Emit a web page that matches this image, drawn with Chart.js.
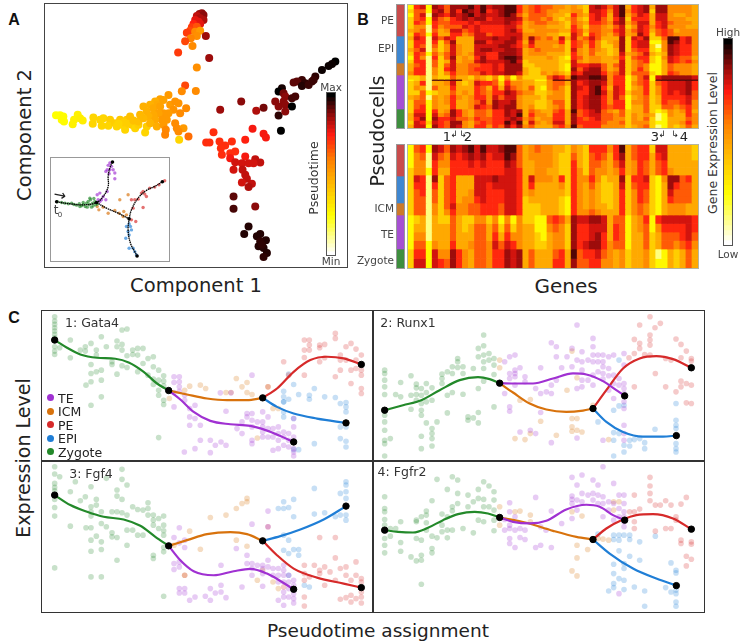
<!DOCTYPE html>
<html>
<head>
<meta charset="utf-8">
<script src="https://cdn.jsdelivr.net/npm/chart.js@4"></script>
<style>
    body { margin: 0; background: #fff; width: 741px; height: 644px; overflow: hidden; position: relative; font-family: "DejaVu Sans", sans-serif; }
    canvas { position: absolute; filter: blur(0.4px); }
    .lbl { position: absolute; white-space: nowrap; color: #222; transform: translate(-50%, -50%); }
    .dot { position: absolute; width: 7px; height: 7px; border-radius: 50%; }
</style>
</head>
<body>
<script>
// Panel A: [component 1, component 2, pseudotime]
const peBranch = [[605,40,.88],[598,42,.86],[610,45,.88],[590,48,.82],[600,55,.84],[610,60,.84],[585,60,.78],[595,65,.78],[580,72,.74],[600,72,.78],[575,82,.7],[590,80,.66],[570,92,.68],[560,98,.7],[585,95,.56],[600,92,.52],[617,108,.86],[590,108,.55],[572,115,.58],[555,124,.68],[577,138,.56],[534,158,.7],[627,174,.86],[590,203,.55],[555,257,.68],[545,274,.56],[587,273,.56]];
const yellowBranch = [[168,346,.24],[180,346,.24],[190,350,.25],[185,360,.25],[192,365,.25],[218,373,.28],[222,360,.28],[233,345,.28],[240,355,.29],[248,362,.29],[280,353,.36],[278,372,.36],[300,360,.36],[310,355,.36],[305,378,.36],[330,360,.38],[325,378,.36],[345,370,.38],[350,380,.36],[360,360,.4],[365,375,.36],[375,390,.36],[380,360,.4],[390,350,.42],[395,375,.4],[405,385,.36],[415,375,.38],[415,365,.42],[435,398,.36],[440,380,.38],[372,368,.38],[355,372,.36],[385,372,.38],[400,362,.42]];
const orangeBranch = [[505,285,.52],[480,298,.5],[465,305,.47],[490,300,.5],[470,315,.48],[450,315,.46],[430,320,.46],[440,335,.46],[460,325,.48],[480,320,.5],[510,315,.52],[525,305,.54],[535,310,.54],[520,330,.54],[505,340,.52],[490,340,.52],[475,340,.5],[460,345,.48],[445,350,.46],[430,355,.44],[420,345,.44],[540,340,.56],[558,325,.56],[500,360,.52],[485,360,.52],[465,360,.48],[450,370,.45],[470,380,.47],[490,375,.52],[525,370,.56],[497,390,.57],[495,405,.58],[530,385,.56],[550,385,.52],[535,395,.56],[565,410,.62],[537,420,.36]];
const redBranch = [[618,428,.72],[628,428,.72],[640,397,.72],[658,425,.72],[675,437,.72],[695,425,.72],[662,445,.72],[665,465,.72],[690,460,.72],[705,455,.72],[690,475,.76],[705,487,.8],[735,470,.76],[725,490,.8],[745,490,.8],[765,478,.82],[780,488,.82],[760,490,.8],[700,510,.8],[727,510,.82],[735,525,.82],[740,537,.82],[725,548,.8],[755,552,.82],[745,562,.84],[757,387,.76],[790,402,.76],[797,413,.76],[735,420,.74],[700,590,.92],[700,627,.94],[765,620,.88]];
const epiBranch = [[745,680,.97],[732,703,.97],[780,703,.97],[770,710,.97],[797,722,.97],[780,725,.96],[775,740,.97],[790,745,.97],[785,735,.96],[800,760,.97],[790,772,.96]];
const darkBranch = [[1005,185,1],[995,192,.99],[985,198,.99],[965,210,.99],[945,230,.96],[935,245,.95],[905,240,.95],[890,245,.92],[880,248,.92],[915,250,.96],[905,258,.97],[925,255,.95],[940,240,.95],[845,265,.98],[835,275,1],[850,280,.9],[855,290,.88],[875,295,.94],[885,290,.94],[825,305,.88],[835,320,.88],[850,305,.88],[855,315,.88],[875,320,1],[835,347,.96],[855,335,.88],[842,393,1],[790,324,.9],[768,333,.84],[723,305,.88],[660,330,.86]];

// Panel A inset: cells coloured by state, black lines are the trajectory
const insetZygote = [[172,606],[185,608],[195,610],[205,612],[215,610],[222,614],[230,616],[238,612],[245,618],[250,614],[256,620],[260,610],[265,605],[268,615],[272,600],[275,622],[278,610],[282,596],[285,605],[288,615],[262,622],[250,608],[240,620],[270,595],[280,618],[292,612]];
const insetTE = [[330,490],[325,497],[335,500],[322,510],[330,510],[340,510],[318,515],[328,522],[345,520],[345,537],[300,580],[292,585],[310,590],[305,600],[318,600],[300,605],[295,600],[322,575]];
const insetICM = [[292,620],[297,630],[310,622],[325,640],[345,632],[360,600],[385,585],[358,640],[372,635],[370,650],[380,645]];
const insetPE = [[395,600],[405,600],[415,598],[400,625],[430,575],[435,583],[440,590],[450,565],[465,562],[478,555],[495,543],[430,623],[395,660],[408,665],[425,580]];
const insetEPI = [[388,672],[392,680],[380,680],[395,690],[385,695],[388,705],[378,715],[388,745],[400,745],[405,755],[410,765]];
const insetPaths = [
    [[170,606],[210,612],[250,615],[290,608],[310,590],[325,560],[325,530],[330,505],[338,487]],
    [[290,608],[320,625],[355,640],[388,657]],
    [[388,657],[395,630],[415,595],[440,572],[465,560],[488,546]],
    [[388,657],[385,690],[392,730],[405,755],[412,768]]
];

// Panel B: one string per gene, read top to bottom (PE EPI ICM TE Zygote), digit = colour level 0-9
const rawGenes = [
    "12122232 3223212 334 21222322 23323", "65556446 7665666 566 22342455 67677", "75765455 6657546 666 33635556 67867",
    "11011001 0000100 000 00001011 11121", "87876656 7654565 544 39352444 67878", "78755433 5222322 222 29333333 34666",
    "55645543 7544553 564 29433443 45655", "88866576 6877787 776 59765666 88788", "86776576 3344433 444 39333433 66587",
    "89886754 3333344 444 33234333 44544", "98977665 3333434 555 23333444 33433", "77786777 7877767 565 45766657 55656",
    "99887667 7878788 667 34655676 55566", "76767665 7678667 666 22634445 44554", "87777666 8777667 777 45566788 66666",
    "88877666 7787887 667 11236577 66665", "99988777 7888898 888 45678778 88798", "99887787 8878899 888 12457788 77876",
    "66576567 7667787 887 43445444 89798", "44343334 4343332 233 23334333 33434", "55554434 8764433 222 23354334 56575",
    "66555444 5445433 322 21222322 44343", "55545444 4444433 334 21212222 34433", "54454343 5444343 333 54443433 33443",
    "44334343 3434333 334 79554454 56675", "43323332 7644322 223 69544455 66676", "33232232 3222212 112 49322222 33334",
    "44655667 7667667 787 98888888 98889", "34434455 4554454 656 87676666 55665", "22323232 5433333 678 87766777 66566",
    "77666556 7665544 788 98888888 77666", "87776555 5444344 788 98899888 87766", "76655444 3223333 556 88767666 55554",
    "54334343 3322233 334 44434445 45544", "77767565 3443343 545 66677766 34444", "99988777 8888767 777 66666566 55454",
    "34323233 2222322 222 11112111 22222", "66565454 7665454 445 33434343 34443", "77767778 6776565 565 55544443 33344",
    "88667666 8776766 445 76666555 54545", "32333432 2122322 112 11222222 23222", "88776655 2101211 111 79544332 10010",
    "88777766 5444343 333 89666665 21111", "44445455 9988877 556 89777655 44333", "44344434 9877766 445 89776654 33332",
    "44344444 6666655 444 89777665 43343", "44434344 7766656 444 89888776 66565", "33333344 4444434 333 79665544 34443"
];
const smoothGenes = [
    "1112 2222 22 1111 22", "5444 7655 55 2345 67", "6544 6665 55 3345 67", "1001 0000 00 0001 11",
    "8766 8655 44 3334 77", "7543 2222 22 2333 46", "5443 5555 54 2333 45", "8766 6666 76 5556 88",
    "7666 3333 44 3333 66", "8766 3334 44 2233 44", "9876 3344 55 2334 33", "7766 7776 55 4555 55",
    "9876 7777 66 4555 55", "7666 7666 66 2334 44", "7766 8766 66 4567 66", "8766 7766 55 1235 66",
    "9987 7777 77 4567 88", "9877 7777 77 1246 77", "5556 6666 66 4444 88", "3333 3332 22 2333 33",
    "4433 7643 22 2333 55", "5444 4333 22 1122 33", "4444 4333 33 1112 33", "4443 4333 33 5433 33",
    "3333 3333 33 6544 56", "3222 6432 22 5444 66", "2222 2221 11 3222 33", "4566 6666 66 8888 98",
    "3334 4444 44 7666 55", "2222 4333 34 7667 65", "6555 6544 45 8778 66", "6654 4333 34 8788 76",
    "6544 2222 33 7766 54", "4333 3222 23 3334 44", "6654 3333 33 5665 33", "9876 8766 66 5555 44",
    "3333 2222 22 1111 22", "5544 6544 44 3333 33", "6666 6666 55 4433 33", "6655 7655 44 6555 44",
    "2333 2222 22 1122 22", "7655 1111 11 6433 01", "7766 4333 33 7655 11", "3334 8876 44 7655 33",
    "3333 8655 44 7654 22", "3333 5555 44 7665 33", "3333 6555 33 7776 55", "2233 3333 33 6654 33"
];
const topRowSpans = [3.9,3.9,3.9,3.9,3.9,3.9,3.9,3.7, 3.9,3.9,3.9,3.9,3.9,3.9,3.6, 4,4,4, 4.25,1.3,4.75,4.75,4.75,4.75,4.75,4.7, 3.8,3.8,3.8,3.8,3.8];
const smoothRowSpans = [7.5,7.5,7.5,7.5, 7,7,7,7, 6,6, 8.5,8.5,8.5,8.5, 9.5,9.5];
const stateNames = ["PE", "EPI", "ICM", "TE", "Zygote"];
const stateSpans = [31, 27, 12, 34, 19];
const levelValues = [.12,.26,.38,.48,.56,.65,.73,.8,.86,.93];
const colorbarLevels = [1,.975,.95,.925,.9,.875,.85,.825,.8,.775,.75,.725,.7,.675,.65,.625,.6,.575,.55,.525,.5,.475,.45,.425,.4,.375,.35,.325,.3,.275,.25,.225,.2,.175,.15,.125,.1,.075,.05,.025,0];

// Panel C: [pseudotime, expression] read per panel
const gata4Zygote = [[163,35],[163,48],[163,58],[163,68],[163,78],[163,88],[163,98],[163,125],[163,138],[163,148],[178,128],[210,105],[210,158],[240,135],[255,125],[255,138],[272,115],[272,178],[272,205],[272,230],[257,240],[272,300],[288,135],[288,150],[288,200],[303,95],[303,195],[303,225],[303,275],[318,125],[335,170],[335,178],[350,108],[350,125],[350,207],[365,75],[365,118],[365,135],[365,182],[380,72],[380,152],[380,187],[397,135],[397,148],[412,130],[412,150],[412,200],[428,130],[428,175],[443,160],[443,210],[459,155],[459,185],[459,222],[459,238],[475,195],[475,225],[475,255],[475,270],[490,212],[490,228],[490,242],[490,285],[490,298],[475,397]];
const gata4TE = [[521,215],[521,232],[537,215],[537,230],[537,245],[537,258],[521,262],[521,305],[553,270],[553,285],[568,310],[568,335],[568,360],[584,300],[584,340],[600,405],[630,405],[645,420],[662,410],[552,440],[584,430],[630,442],[677,318],[677,420],[710,370],[725,350],[725,385],[740,325],[740,335],[755,210],[755,325],[755,345],[755,365],[771,350],[755,405],[755,415],[787,320],[787,350],[787,365],[787,380],[787,395],[803,335],[803,370],[803,395],[818,370],[818,395],[818,435],[834,365],[834,385],[834,405],[834,430],[850,380],[850,395],[850,420],[865,385],[865,405],[865,425],[880,340],[880,365],[880,430],[880,440],[880,452],[880,395],[692,263],[660,263],[600,360]];
const gata4ICM = [[568,243],[600,240],[553,255],[507,280],[616,250],[677,262],[692,262],[708,220],[725,245],[740,232],[740,262],[755,268],[771,398],[803,245],[818,310],[834,310]];
const gata4PE = [[803,245],[850,170],[865,210],[912,105],[912,135],[912,157],[927,105],[927,120],[927,135],[958,120],[958,128],[973,118],[912,210],[1005,85],[1005,100],[1020,150],[1037,125],[1052,115],[1067,132],[1083,150],[1067,165],[1052,195],[1020,195],[1005,215],[1052,235],[1083,195],[1083,210],[1083,250],[1083,265],[973,158],[958,170],[1020,165],[1037,165],[1067,190]];
const gata4EPI = [[865,207],[880,238],[850,258],[850,275],[850,290],[865,282],[895,268],[927,270],[927,282],[942,250],[973,275],[1005,277],[1020,295],[1037,292],[1037,305],[1037,320],[1020,365],[1037,365],[850,320],[850,335],[880,340],[880,433],[895,433],[942,415],[1020,400],[1037,408],[1037,425],[850,290]];
const gata4Curves = {
    Zygote: [[163,105],[200,128],[240,148],[290,158],[345,161],[385,172],[430,200],[470,235],[505,256]],
    TE: [[505,256],[540,283],[580,320],[630,347],[690,357],[750,362],[800,376],[840,392],[880,410]],
    ICM: [[505,256],[560,268],[620,280],[680,285],[740,285],[787,278]],
    PE: [[787,278],[830,250],[880,200],[930,165],[980,155],[1030,160],[1083,178]],
    EPI: [[787,278],[830,305],[880,325],[950,340],[1037,353]]
};

const runx1Zygote = [[45,195],[45,205],[45,225],[45,245],[45,268],[45,330],[45,350],[45,375],[45,405],[45,415],[45,452],[62,400],[78,268],[93,232],[93,275],[124,212],[124,270],[124,312],[140,237],[140,248],[140,268],[140,285],[155,250],[155,270],[155,295],[155,315],[155,330],[170,235],[170,262],[170,290],[170,353],[155,393],[155,430],[187,248],[187,285],[187,370],[187,385],[187,400],[187,422],[202,350],[217,207],[217,220],[217,235],[233,200],[233,270],[233,323],[248,185],[248,205],[248,262],[264,160],[264,170],[264,187],[280,185],[280,205],[280,267],[295,335],[295,345],[311,190],[311,338],[326,130],[326,155],[326,250],[326,353],[326,322],[342,90],[342,122],[342,150],[342,170],[342,228],[342,190],[358,145],[358,165],[373,160],[373,180],[373,208],[373,305]];
const runx1TE = [[405,170],[420,155],[436,150],[420,205],[420,220],[436,195],[436,215],[451,188],[405,265],[420,305],[420,318],[436,205],[436,240],[466,215],[466,230],[498,250],[513,188],[513,265],[513,322],[530,260],[545,113],[545,240],[545,265],[560,125],[560,155],[576,188],[560,225],[592,155],[607,130],[607,185],[622,60],[622,165],[622,250],[637,140],[637,170],[637,195],[637,225],[637,245],[655,165],[655,225],[670,100],[670,125],[670,150],[670,170],[670,210],[670,240],[685,150],[685,170],[685,200],[700,150],[700,170],[700,185],[700,205],[700,222],[717,155],[717,190],[717,212],[717,255],[732,150],[732,210],[732,235],[732,280],[748,220],[748,240],[763,145],[763,180],[763,235],[763,250],[763,265],[763,290],[763,310],[763,360],[763,385],[763,405],[451,380],[482,375],[498,385],[545,412],[622,398],[700,405]];
const runx1ICM = [[390,165],[390,188],[436,400],[451,285],[466,403],[482,283],[513,348],[560,390],[592,255],[607,138],[607,340],[607,365],[607,378],[622,340],[622,218],[622,375],[637,380],[717,403],[670,300],[482,385]];
const runx1PE = [[794,103],[794,145],[794,245],[810,60],[810,115],[841,35],[841,90],[841,105],[841,120],[856,68],[872,55],[825,148],[841,150],[857,205],[888,160],[888,245],[904,165],[919,102],[919,260],[934,118],[934,158],[934,228],[934,245],[950,138],[950,235],[950,293],[965,160],[965,168],[965,240],[965,295],[778,158],[810,130]];
const runx1EPI = [[685,350],[732,315],[748,165],[748,302],[763,300],[732,382],[732,405],[748,385],[763,420],[763,440],[780,405],[780,422],[794,403],[810,400],[825,412],[825,430],[732,452],[856,372],[919,295],[919,345],[919,360],[919,370],[919,415],[919,430],[919,440]];
const runx1Curves = {
    Zygote: [[45,315],[100,300],[155,285],[210,255],[270,225],[325,216],[360,222],[390,234]],
    TE: [[390,234],[440,235],[490,235],[550,220],[610,205],[650,208],[700,228],[740,255],[765,272]],
    ICM: [[390,234],[430,262],[480,295],[530,313],[590,320],[640,316],[670,310]],
    PE: [[670,310],[710,255],[760,190],[810,160],[860,153],[910,162],[965,188]],
    EPI: [[670,310],[710,350],[760,380],[820,394],[880,394],[920,391]]
};

const fgf4Zygote = [[163,20],[163,42],[163,70],[163,82],[163,92],[163,118],[163,142],[163,168],[163,323],[178,50],[210,95],[210,198],[225,65],[240,122],[255,110],[257,203],[272,80],[272,140],[272,155],[272,168],[272,203],[272,240],[272,273],[272,350],[288,118],[288,135],[288,228],[303,155],[303,190],[303,245],[303,268],[303,350],[318,55],[318,200],[335,155],[335,218],[335,230],[350,90],[350,108],[350,155],[350,232],[350,300],[365,28],[365,58],[365,118],[365,158],[380,75],[380,165],[380,210],[380,255],[397,140],[397,210],[412,148],[412,225],[428,150],[428,225],[443,128],[443,145],[443,165],[459,165],[459,180],[459,195],[459,285],[459,295],[475,175],[475,205],[490,168],[490,195],[490,212],[490,225],[490,262],[490,275],[490,408]];
const fgf4TE = [[537,203],[521,232],[537,248],[553,262],[521,310],[521,328],[537,305],[537,320],[553,240],[537,385],[537,398],[553,385],[553,398],[568,420],[584,410],[615,408],[630,385],[630,420],[645,398],[662,375],[662,315],[662,395],[677,412],[708,265],[725,380],[740,285],[740,310],[755,192],[755,310],[755,325],[755,345],[771,315],[787,315],[787,325],[787,340],[787,378],[803,153],[803,200],[803,300],[803,320],[818,325],[818,345],[834,325],[834,345],[834,365],[850,315],[850,330],[850,345],[850,365],[850,395],[850,410],[865,345],[865,365],[865,385],[865,410],[880,360],[880,375],[880,400],[880,415],[880,428],[834,420],[850,435]];
const fgf4ICM = [[521,255],[568,213],[600,267],[630,172],[677,165],[708,145],[725,130],[740,115],[740,125],[708,240],[740,258],[771,360],[553,345],[787,240],[818,365],[834,385],[787,330]];
const fgf4PE = [[553,345],[803,200],[850,380],[912,315],[912,340],[912,360],[912,410],[912,437],[927,350],[942,315],[958,232],[958,330],[958,340],[973,320],[973,375],[989,335],[1005,232],[1005,293],[1005,360],[1020,325],[1020,417],[1037,320],[1037,345],[1037,412],[1052,360],[1052,425],[1067,305],[1067,345],[1083,355],[1083,365],[1083,395],[1083,410],[1083,428],[1067,415],[1052,405]];
const fgf4EPI = [[834,145],[850,125],[850,145],[865,142],[880,118],[880,170],[942,85],[942,162],[973,158],[1005,170],[1020,100],[1037,65],[1037,75],[1037,95],[1037,115],[1020,165],[1037,165],[1037,180],[850,225],[865,240],[850,270],[865,280],[880,268],[895,268],[895,285],[912,375],[927,380],[865,345]];
const fgf4Curves = {
    Zygote: [[163,105],[210,135],[260,155],[310,170],[370,178],[420,197],[465,230],[505,257]],
    TE: [[505,257],[540,300],[580,333],[640,345],[700,333],[750,326],[800,340],[840,362],[880,387]],
    ICM: [[505,257],[560,240],[620,222],[690,216],[740,222],[787,242]],
    PE: [[787,242],[830,285],[880,325],[950,352],[1030,370],[1083,382]],
    EPI: [[787,242],[840,228],[900,208],[970,178],[1037,138]]
};

const fgfr2Zygote = [[45,110],[45,145],[45,155],[45,178],[45,195],[45,235],[45,255],[45,278],[62,205],[62,228],[78,205],[93,185],[93,247],[93,273],[124,290],[140,180],[140,185],[140,235],[140,302],[155,170],[155,240],[155,285],[155,300],[155,372],[170,153],[170,165],[170,188],[170,210],[187,122],[187,228],[187,265],[187,278],[202,58],[202,233],[217,162],[217,195],[217,215],[233,88],[233,170],[233,210],[233,233],[248,50],[248,140],[248,152],[248,210],[264,60],[264,100],[264,130],[280,205],[295,105],[295,140],[311,125],[311,218],[326,88],[326,115],[326,180],[342,65],[342,118],[342,140],[342,185],[358,78],[358,140],[373,95],[373,120],[373,150],[373,180],[373,212]];
const fgfr2TE = [[405,178],[405,210],[420,128],[420,155],[420,195],[420,205],[420,235],[420,250],[436,170],[436,210],[436,262],[451,205],[451,232],[466,210],[466,238],[498,112],[498,262],[513,200],[513,255],[529,210],[545,153],[545,262],[576,190],[607,52],[607,108],[607,118],[607,130],[607,175],[622,75],[622,120],[622,150],[637,45],[637,100],[637,125],[655,105],[670,60],[670,100],[670,120],[685,75],[685,105],[685,130],[700,20],[700,110],[700,130],[700,170],[717,125],[717,150],[732,70],[732,180],[748,105],[748,145],[748,170],[763,105],[763,155],[763,170],[763,185],[763,200],[748,400],[732,130],[763,130]];
const fgfr2ICM = [[390,140],[390,195],[436,155],[451,153],[482,165],[482,185],[607,155],[622,255],[637,168],[622,293],[654,268],[607,332],[622,347],[685,235],[700,237],[717,240],[732,125],[748,125],[732,150]];
const fgfr2PE = [[794,105],[794,155],[794,185],[794,205],[810,147],[841,52],[841,78],[841,100],[841,122],[857,135],[857,213],[872,135],[888,122],[888,205],[904,135],[904,205],[919,170],[919,180],[934,132],[934,240],[934,250],[950,112],[950,288],[950,317],[965,245],[965,252],[965,297],[780,155]];
const fgfr2EPI = [[685,222],[732,225],[732,238],[748,225],[748,240],[763,225],[780,225],[780,238],[810,245],[748,272],[780,288],[810,300],[732,312],[763,310],[763,325],[732,340],[748,355],[763,360],[732,370],[732,382],[717,392],[763,388],[794,380],[825,392],[825,438],[857,228],[904,308],[919,330],[919,338],[888,382],[904,395],[919,390],[919,400],[919,425],[919,438]];
const fgfr2Curves = {
    Zygote: [[45,210],[85,215],[130,217],[175,203],[220,180],[265,162],[315,155],[355,160],[390,172]],
    TE: [[390,172],[430,185],[480,190],[530,182],[590,148],[650,134],[690,140],[730,165],[765,180]],
    ICM: [[390,172],[470,188],[550,212],[620,230],[670,238]],
    PE: [[670,238],[710,205],[760,178],[800,165],[850,162],[910,175],[965,207]],
    EPI: [[670,238],[720,280],[790,325],[860,355],[920,376]]
};

const stateColors = { TE: "#a031d2", ICM: "#d8720c", PE: "#d62a2a", EPI: "#1f7ed6", Zygote: "#23892a" };
const stripColors = { PE: "#c94c4c", EPI: "#3f87d0", ICM: "#cc7a2a", TE: "#a650d2", Zygote: "#3e8e3e" };
const heatStops = [[0,[255,255,255]],[.24,[255,255,0]],[.42,[255,192,0]],[.59,[255,128,0]],[.75,[255,26,16]],[.88,[139,10,10]],[1,[0,0,0]]];

function heatColor(t) {
    for (let i = 1; i < heatStops.length; i++) {
        const a = heatStops[i - 1], b = heatStops[i];
        if (t <= b[0]) {
            const f = (t - a[0]) / (b[0] - a[0]);
            return "rgb(" + a[1].map((c, k) => Math.round(c + (b[1][k] - c) * f)).join(",") + ")";
        }
    }
    return "rgb(0,0,0)";
}

function label(text, x, y, size, extra) {
    const el = document.createElement("div");
    el.className = "lbl";
    el.textContent = text;
    el.style.left = x + "px";
    el.style.top = y + "px";
    el.style.fontSize = size + "px";
    if (extra) Object.assign(el.style, extra);
    document.body.appendChild(el);
    return el;
}

function addChart(left, top, width, height, outline, config) {
    const canvas = document.createElement("canvas");
    canvas.width = width;
    canvas.height = height;
    canvas.style.left = left + "px";
    canvas.style.top = top + "px";
    if (outline) canvas.style.outline = outline;
    document.body.appendChild(canvas);
    config.options = Object.assign({
        responsive: false,
        animation: false,
        devicePixelRatio: 1,
        layout: { padding: 0, autoPadding: false },
        plugins: { legend: { display: false }, tooltip: { enabled: false } }
    }, config.options);
    return new Chart(canvas, config);
}

function plainScales(xMin, xMax, yMin, yMax) {
    return {
        x: { type: "linear", display: false, min: xMin, max: xMax },
        y: { type: "linear", display: false, min: yMin, max: yMax, reverse: true }
    };
}

const xy = list => list.map(p => ({ x: p[0], y: p[1] }));

// Panel A
const allCells = [...yellowBranch, ...orangeBranch, ...peBranch, ...redBranch, ...darkBranch, ...epiBranch];
addChart(45, 4, 302, 263, "1.5px solid #444", {
    type: "scatter",
    data: { datasets: [{
        data: xy(allCells),
        pointRadius: 4,
        borderWidth: 0,
        backgroundColor: allCells.map(c => heatColor(c[2]))
    }] },
    options: { scales: plainScales(135, 1040, 12, 802) }
});

// Inset
const insetSets = [[insetZygote, "Zygote"], [insetTE, "TE"], [insetICM, "ICM"], [insetPE, "PE"], [insetEPI, "EPI"]].map(s => ({
    data: xy(s[0]), pointRadius: 1.7, borderWidth: 0, backgroundColor: stateColors[s[1]] + "aa", order: 2
}));
const insetLines = insetPaths.map(path => ({
    data: xy(path), showLine: true, tension: 0.4, borderColor: "#000", borderWidth: 1.3, borderDash: [1.5, 0.6],
    pointRadius: 0, order: 1
}));
const insetEnds = { data: xy([[170,606],[290,608],[338,487],[388,657],[488,546],[412,768]]), pointRadius: 1.8, backgroundColor: "#000", borderWidth: 0, order: 0 };
addChart(51, 158, 118, 103, "1px solid #999", {
    type: "scatter",
    data: { datasets: [...insetSets, ...insetLines, insetEnds] },
    options: { scales: plainScales(153, 508, 475, 783) }
});

// vertical stacks: heatmaps, state strips and colour bars all use this
function stackChart(left, top, width, height, outline, categories, datasets, total) {
    datasets.forEach(d => Object.assign(d, { barPercentage: 1, categoryPercentage: 1, borderWidth: 0, borderSkipped: false }));
    addChart(left, top, width, height, outline, {
        type: "bar",
        data: { labels: categories, datasets: datasets },
        options: { scales: {
            x: { stacked: true, display: false },
            y: { stacked: true, display: false, min: 0, max: total, reverse: true }
        } }
    });
}

function heatmap(top, rawColumns, spans) {
    const columns = rawColumns.map(c => c.replace(/ /g, ""));
    const sets = spans.map((span, r) => ({
        data: columns.map(() => span),
        backgroundColor: columns.map(c => heatColor(levelValues[+c[r]]))
    }));
    stackChart(408, top, 290, 123, "1px solid #b5b5a0", columns.map((c, i) => i + 1), sets, 123);
    stackChart(397, top, 7, 123, "1px solid #999", ["state"],
        stateNames.map((n, i) => ({ data: [stateSpans[i]], backgroundColor: stripColors[n] })), 123);
}
heatmap(5, rawGenes, topRowSpans);
heatmap(145, smoothGenes, smoothRowSpans);

// colour bars
function colorbar(left, top, width, height) {
    stackChart(left, top, width, height, "1px solid #555", ["level"],
        colorbarLevels.map(t => ({ data: [1], backgroundColor: heatColor(t) })), colorbarLevels.length);
}
colorbar(327, 93, 8, 162);
colorbar(724, 39, 8, 206);

// Panel C
function expressionPanel(left, top, width, height, xRange, yRange, points, curves) {
    const sets = [];
    const names = ["Zygote", "TE", "ICM", "PE", "EPI"];
    names.forEach((n, i) => sets.push({
        data: xy(points[i]), pointRadius: 2.8, borderWidth: 0,
        backgroundColor: stateColors[n] + "40", order: 5
    }));
    names.forEach(n => sets.push({
        data: xy(curves[n]), showLine: true, cubicInterpolationMode: "monotone", borderColor: stateColors[n], borderWidth: 2.2,
        pointRadius: 0, order: n === "Zygote" ? 3 : 4
    }));
    const nodes = [];
    names.forEach(n => {
        const c = curves[n];
        if (n === "Zygote") nodes.push(c[0]);
        nodes.push(c[c.length - 1]);
    });
    sets.push({ data: xy(nodes), pointRadius: 3.2, backgroundColor: "#000", borderColor: "#000", borderWidth: 1, order: 1 });
    addChart(left, top, width, height, "1.5px solid #333", {
        type: "scatter",
        data: { datasets: sets },
        options: { scales: plainScales(xRange[0], xRange[1], yRange[0], yRange[1]) }
    });
}
expressionPanel(42, 311, 331, 150, [125, 1118], [18, 467], [gata4Zygote, gata4TE, gata4ICM, gata4PE, gata4EPI], gata4Curves);
expressionPanel(373, 311, 331, 150, [10, 1003], [18, 467], [runx1Zygote, runx1TE, runx1ICM, runx1PE, runx1EPI], runx1Curves);
expressionPanel(42, 461, 331, 151, [125, 1118], [3, 455], [fgf4Zygote, fgf4TE, fgf4ICM, fgf4PE, fgf4EPI], fgf4Curves);
expressionPanel(373, 461, 331, 151, [10, 1003], [3, 455], [fgfr2Zygote, fgfr2TE, fgfr2ICM, fgfr2PE, fgfr2EPI], fgfr2Curves);

// Text
const bold = { fontFamily: '"Liberation Sans", sans-serif', fontWeight: "bold", color: "#111" };
label("A", 14, 20, 16, bold);
label("B", 363, 20, 16, bold);
label("C", 14, 318, 16, bold);
label("Component 1", 196, 285, 19.5);
label("Component 2", 24, 135, 19.5, { transform: "translate(-50%,-50%) rotate(-90deg)" });
label("Pseudotime", 313, 178, 12.5, { transform: "translate(-50%,-50%) rotate(-90deg)", color: "#333" });
label("Max", 331, 87, 10.5, { color: "#444" });
label("Min", 331, 261, 10.5, { color: "#444" });
label("t", 56, 210, 12, { color: "#444" });
label("0", 60, 215, 7, { color: "#444" });
label("→", 60, 195, 15, { transform: "translate(-50%,-50%) rotate(12deg)", color: "#222" });

label("Pseudocells", 377, 131, 19, { transform: "translate(-50%,-50%) rotate(-90deg)" });
label("Genes", 566, 286, 20);
label("Gene Expression Level", 712, 143, 12.5, { transform: "translate(-50%,-50%) rotate(-90deg)", color: "#333" });
label("High", 728, 32, 10.5, { color: "#444" });
label("Low", 728, 254, 10.5, { color: "#444" });
[["PE", 20], ["EPI", 48], ["ICM", 208], ["TE", 234], ["Zygote", 260]].forEach(s => {
    label(s[0], 394, s[1], 10.5, { color: "#444", transform: "translate(-100%,-50%)" });
});
label("1", 447, 136, 13);
label("↲", 454, 134, 9);
label("↳", 463, 134, 9);
label("2", 468, 136, 13);
label("3", 655, 136, 13);
label("↲", 662, 134, 9);
label("↳", 675, 134, 9);
label("4", 684, 136, 13);

label("1: Gata4", 92, 322, 12.5, { color: "#333" });
label("2: Runx1", 408, 322, 12.5, { color: "#333" });
label("3: Fgf4", 91, 473, 12.5, { color: "#333" });
label("4: Fgfr2", 402, 471, 12.5, { color: "#333" });
label("Expression Level", 23, 458, 19, { transform: "translate(-50%,-50%) rotate(-90deg)" });
label("Pseudotime assignment", 378, 630, 18.5);

["TE", "ICM", "PE", "EPI", "Zygote"].forEach((n, i) => {
    const y = 397.5 + i * 13.6;
    const d = document.createElement("div");
    d.className = "dot";
    d.style.left = "47px";
    d.style.top = (y - 3.5) + "px";
    d.style.background = stateColors[n];
    document.body.appendChild(d);
    label(n, 58, y, 12.5, { transform: "translate(0,-50%)", color: "#222" });
});
</script>
</body>
</html>
